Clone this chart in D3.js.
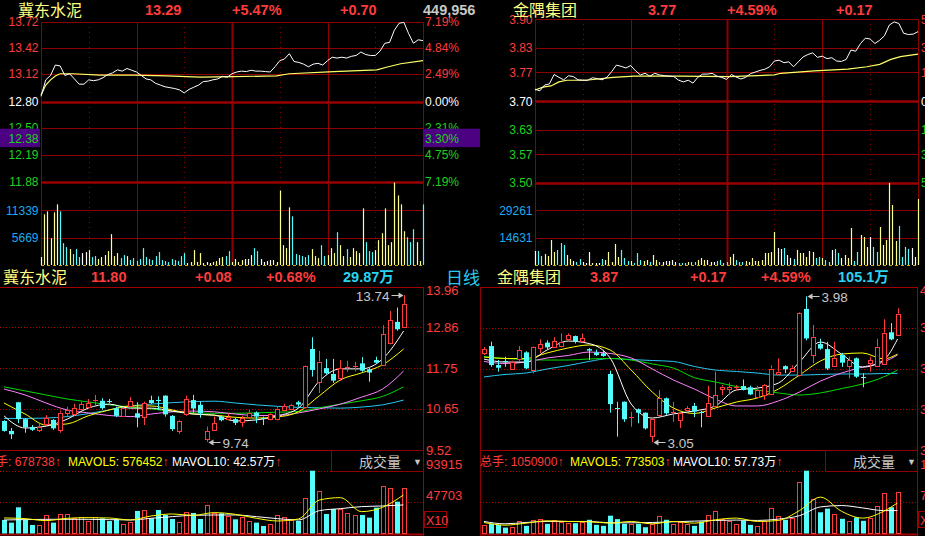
<!DOCTYPE html>
<html>
<head>
<meta charset="utf-8">
<script src="https://cdn.jsdelivr.net/npm/d3@7/dist/d3.min.js"></script>
<style>
html,body{margin:0;padding:0;background:#000;overflow:hidden;}
svg{display:block;}
</style>
</head>
<body>
<svg id="chart" width="925" height="536"></svg>
<script>
// ================= DATA =================
const jdName = "冀东水泥";
const jyName = "金隅集团";
const jdTopHeader = ["13.29", "+5.47%", "+0.70", "449,956"];
const jyTopHeader = ["3.77", "+4.59%", "+0.17"];
const jdDayHeader = ["11.80", "+0.08", "+0.68%", "29.87万"];
const jyDayHeader = ["3.87", "+0.17", "+4.59%", "105.1万"];
const periodLabel = "日线";
const jdVolHeader = ["678738", "576452", "42.57万"];
const jyVolHeader = ["1050900", "773503", "57.73万"];

// intraday axes
const jdPrevClose = 12.80;
const jyPrevClose = 3.70;
const jdPriceTicks = [13.72, 13.42, 13.12, 12.80, 12.50, 12.19, 11.88];
const jdPctTicks = ["7.19%", "4.84%", "2.49%", "0.00%", "2.31%", "4.75%", "7.19%"];
const jyPriceTicks = [3.90, 3.83, 3.77, 3.70, 3.63, 3.57, 3.50];
const jyPctTicks = ["5.41%", "3.51%", "1.89%", "0.00%", "1.89%", "3.51%", "5.41%"];
const jdIntraVolTicks = [11339, 5669];
const jyIntraVolTicks = [29261, 14631];
const jdCursorPrice = 12.38;
const jdCursorPct = "3.30%";

// intraday price, one sample every 3 minutes (0..240)
const jdIntraPrice = [12.86,13.05,13.10,13.22,13.21,13.10,13.12,13.06,13.00,13.00,
13.05,13.04,13.05,13.075,13.11,13.13,13.165,13.15,13.18,13.16,
13.14,13.10,13.06,13.05,13.01,12.99,12.97,12.96,12.95,12.935,
12.90,12.94,12.965,12.99,13.03,13.035,13.05,13.06,13.09,13.08,
13.12,13.14,13.15,13.145,13.16,13.15,13.15,13.145,13.14,13.20,
13.27,13.29,13.35,13.26,13.25,13.23,13.20,13.23,13.24,13.22,
13.27,13.31,13.30,13.31,13.30,13.32,13.33,13.37,13.34,13.33,
13.33,13.38,13.47,13.48,13.62,13.70,13.71,13.58,13.47,13.51,
13.50];
const jdAvgMinutes = [0,3,6,9,12,20,37,58,79,100,121,148,156,184,211,217,226,240];
const jdAvgPrice = [12.875,12.99,13.05,13.095,13.12,13.12,13.105,13.105,13.095,13.08,13.087,13.095,13.12,13.145,13.165,13.195,13.235,13.27];
// intraday volume, one sample every 2 minutes
const jdIntraVol = [1650,10510,11120,5560,10920,12570,11120,4530,3710,3300,
2270,3300,1650,2470,2680,3090,1650,1850,1240,1650,
2060,2880,6390,1850,2470,1440,2060,1850,1030,1440,
820,1240,3500,1650,1240,1030,1850,2680,1030,820,
620,1240,1030,820,1850,2470,410,620,3090,620,
2470,410,620,410,620,820,1440,1650,1850,2880,
620,1240,620,1030,1240,1240,2060,3500,2880,1240,
620,820,1030,1030,620,15450,4120,3500,11950,10090,
2270,2060,1850,1650,2060,3300,1850,1440,4120,1850,
2060,3500,2470,6800,4120,1850,3300,1650,3500,2880,
2470,11740,4740,2880,2680,3090,5150,6590,11740,4120,
4740,17100,14420,12570,7000,5770,4740,7420,4740,820,
12570];

const jyIntraPrice = [3.729,3.725,3.739,3.742,3.765,3.758,3.752,3.762,3.760,3.752,
3.751,3.751,3.757,3.755,3.752,3.758,3.772,3.788,3.785,3.781,
3.787,3.774,3.764,3.768,3.761,3.768,3.764,3.762,3.761,3.760,
3.751,3.747,3.751,3.744,3.758,3.766,3.766,3.768,3.761,3.758,
3.753,3.765,3.759,3.754,3.758,3.767,3.771,3.775,3.778,3.784,
3.798,3.800,3.794,3.796,3.784,3.796,3.808,3.814,3.818,3.807,
3.810,3.804,3.806,3.798,3.797,3.802,3.825,3.822,3.841,3.854,
3.852,3.841,3.849,3.860,3.886,3.894,3.890,3.866,3.863,3.864,
3.870];
const jyAvgMinutes = [0,5,10,15,20,32,49,62,91,122,150,154,175,196,208,216,223,229,240];
const jyAvgPrice = [3.727,3.734,3.737,3.747,3.751,3.751,3.758,3.761,3.761,3.760,3.764,3.768,3.774,3.778,3.784,3.790,3.802,3.809,3.815];
const jyIntraVol = [7490,7490,4815,5885,4815,13375,6955,8025,11770,10700,
5350,3210,2140,1605,3210,1605,1070,6955,1070,1070,
1070,3210,2675,6955,1605,11235,4280,8025,3745,2140,
2140,1070,6420,2675,2140,2675,1605,5350,2675,1605,
1605,2140,2140,2675,1605,1070,1070,1070,1605,1605,
1605,2675,3745,2675,2675,1605,1605,2140,2675,1070,
1605,4280,5885,2675,1605,1605,2140,1605,3745,2140,
2140,2675,6420,6420,6955,17655,9095,8560,9095,5350,
3745,3210,8025,6420,6420,4280,7490,6955,3745,4280,
3745,2675,1605,8025,8560,6420,3745,5350,3745,19795,
2140,6955,16050,14980,9630,14980,9630,6955,20330,10700,
13375,43870,32100,12840,20865,4280,9630,8560,9095,4280,
35310];

// daily candles: 冀东水泥
const jdOpen  = [10.31,10.04,10.82,10.36,10.14,10.06,10.23,10.34,10.08,10.53,10.52,10.63,10.67,10.85,10.86,10.86,10.65,10.45,10.73,10.52,10.40,10.88,10.87,11.00,10.45,10.04,10.50,10.88,10.75,9.82,10.05,10.43,10.38,10.36,10.26,10.43,10.54,10.40,10.36,10.38,10.61,10.63,10.82,10.68,12.27,11.38,11.75,11.59,11.47,11.76,11.78,11.88,11.72,11.97,11.84,12.43,13.01,12.88];
const jdHigh  = [10.33,10.12,10.83,10.38,10.20,10.23,10.47,10.36,10.59,10.70,10.78,10.84,10.91,11.02,10.93,10.91,10.70,10.69,10.96,10.82,10.84,11.00,10.98,11.01,10.47,10.34,11.00,11.02,10.84,10.16,10.43,10.47,10.52,10.40,10.45,10.61,10.57,10.43,10.52,10.70,10.78,10.78,10.86,11.82,12.59,12.22,12.00,12.00,11.97,11.95,11.92,12.05,11.76,12.06,12.92,13.31,13.40,13.74];
const jdLow   = [10.02,9.82,10.25,9.99,10.04,10.01,10.18,10.07,9.99,10.45,10.45,10.60,10.65,10.74,10.62,10.79,10.42,10.43,10.70,10.14,10.20,10.77,10.61,10.43,10.04,9.96,10.45,10.53,10.40,9.74,10.04,10.30,10.33,10.20,10.15,10.38,10.25,10.20,10.33,10.33,10.58,10.60,10.70,10.65,11.52,11.07,11.58,11.35,11.40,11.65,11.66,11.65,11.38,11.88,11.82,12.40,12.77,12.86];
const jdClose = [10.04,9.95,10.36,10.14,10.07,10.15,10.38,10.11,10.54,10.60,10.67,10.77,10.79,10.88,10.66,10.84,10.45,10.67,10.86,10.40,10.79,10.80,10.85,10.49,10.09,10.32,10.90,10.65,10.52,10.04,10.25,10.33,10.43,10.26,10.38,10.54,10.43,10.36,10.49,10.65,10.72,10.75,10.76,11.81,11.70,11.93,11.61,11.41,11.75,11.78,11.80,11.68,11.63,11.90,12.68,13.06,12.81,13.50];
const jdVolume = [20000,16000,39000,20000,12500,12500,27000,16000,28500,28500,23500,25000,19000,25000,22500,18500,21000,14000,17500,33500,34500,22500,35000,27500,21500,17000,32500,30500,21500,42000,31000,30000,25500,21000,25000,18500,16000,11000,14000,27000,24000,20000,18500,52500,93915,63500,29000,36500,36500,31000,27000,27500,23500,38500,71000,67500,47500,67874];
const jdMaIdx = [0,3,6,9,12,15,18,21,24,27,30,33,36,39,42,45,48,51,54,57];
const jdMa5  = [10.45,10.12,10.17,10.36,10.66,10.77,10.66,10.66,10.58,10.50,10.47,10.31,10.34,10.45,10.66,11.40,11.73,11.73,12.00,12.76];
const jdMa10 = [10.80,10.50,10.20,10.23,10.45,10.61,10.72,10.72,10.61,10.50,10.47,10.41,10.39,10.42,10.56,11.00,11.43,11.62,11.84,12.27];
const jdMa20 = [11.18,11.02,10.80,10.61,10.53,10.46,10.43,10.50,10.56,10.58,10.56,10.50,10.46,10.46,10.53,10.64,10.77,10.96,11.18,11.67];
const jdMa30 = [11.24,11.13,11.02,10.91,10.83,10.75,10.69,10.64,10.57,10.53,10.52,10.52,10.53,10.55,10.57,10.67,10.77,10.86,10.98,11.24];
const jdMa60 = [10.38,10.38,10.39,10.43,10.51,10.61,10.72,10.77,10.81,10.84,10.85,10.80,10.75,10.71,10.68,10.67,10.66,10.69,10.75,10.88];
const jdMavol5  = [23000,22000,19000,22500,23500,23000,20000,26000,29000,27000,31000,28500,22500,18500,21500,50000,53500,32500,39000,57645];
const jdMavol10 = [20000,20500,21000,21000,21000,20500,20000,22500,25000,27000,27500,27500,25000,22000,20000,34000,37000,40000,41000,42570];
const jdDayTicks = [13.96, 12.86, 11.75, 10.65, 9.52];
const jdVolTicks = [93915, 47703];

// daily candles: 金隅集团
const jyOpen  = [3.617,3.663,3.542,3.568,3.521,3.579,3.623,3.506,3.649,3.685,3.659,3.663,3.708,3.727,3.691,3.644,3.621,3.617,3.485,3.266,3.308,3.205,3.260,3.238,3.085,3.223,3.330,3.234,3.191,3.255,3.281,3.240,3.220,3.280,3.390,3.390,3.400,3.408,3.400,3.336,3.350,3.360,3.490,3.535,3.505,3.478,3.900,3.610,3.676,3.644,3.536,3.606,3.536,3.585,3.466,3.557,3.536,3.553,3.751,3.738];
const jyHigh  = [3.657,3.691,3.574,3.595,3.570,3.663,3.630,3.660,3.706,3.700,3.720,3.744,3.744,3.730,3.744,3.650,3.640,3.640,3.506,3.308,3.310,3.244,3.265,3.240,3.200,3.383,3.335,3.308,3.240,3.280,3.300,3.250,3.410,3.500,3.415,3.430,3.415,3.450,3.410,3.410,3.420,3.540,3.585,3.540,3.540,3.880,3.980,3.798,3.710,3.690,3.690,3.620,3.595,3.590,3.490,3.595,3.710,3.834,3.810,3.904];
const jyLow   = [3.606,3.531,3.500,3.531,3.515,3.564,3.515,3.489,3.617,3.640,3.655,3.655,3.700,3.680,3.685,3.574,3.600,3.595,3.238,3.085,3.180,3.148,3.170,3.130,3.050,3.210,3.225,3.180,3.140,3.240,3.210,3.145,3.210,3.270,3.350,3.350,3.380,3.380,3.350,3.330,3.320,3.355,3.485,3.490,3.500,3.470,3.700,3.553,3.640,3.510,3.530,3.530,3.457,3.460,3.400,3.500,3.530,3.545,3.700,3.730];
const jyClose = [3.642,3.542,3.525,3.560,3.564,3.638,3.521,3.655,3.676,3.655,3.695,3.691,3.734,3.691,3.713,3.634,3.606,3.600,3.293,3.260,3.196,3.210,3.238,3.138,3.196,3.330,3.234,3.240,3.234,3.266,3.245,3.236,3.300,3.350,3.405,3.400,3.405,3.383,3.355,3.383,3.415,3.520,3.500,3.515,3.525,3.876,3.712,3.723,3.647,3.520,3.589,3.557,3.574,3.468,3.462,3.574,3.659,3.749,3.706,3.870];
const jyVolume = [21500,24100,21500,14600,17200,31800,18900,34400,36100,24100,34400,28400,25800,25800,27500,34400,21500,18900,44800,36100,24100,24100,24100,15500,24100,44800,34400,24100,27500,24100,18900,30100,47300,57700,37000,31800,24100,32700,21500,18900,31800,64600,44800,34400,38700,131700,159200,87800,53400,62800,49100,37000,31800,40500,31800,38700,70600,103300,66300,105090];
const jyMaIdx = [0,3,6,9,12,15,18,21,24,27,30,33,36,39,42,45,48,51,54,57,59];
const jyMa5  = [3.580,3.561,3.561,3.638,3.695,3.679,3.587,3.293,3.204,3.230,3.249,3.281,3.383,3.395,3.427,3.561,3.689,3.612,3.529,3.574,3.708];
const jyMa10 = [3.593,3.584,3.584,3.619,3.651,3.670,3.638,3.510,3.370,3.268,3.233,3.268,3.306,3.332,3.389,3.478,3.568,3.612,3.619,3.581,3.612];
const jyMa20 = [3.565,3.552,3.561,3.587,3.603,3.625,3.616,3.587,3.517,3.447,3.389,3.325,3.281,3.281,3.313,3.370,3.440,3.491,3.529,3.561,3.606];
const jyMa30 = [3.596,3.584,3.577,3.574,3.574,3.581,3.584,3.574,3.549,3.523,3.462,3.434,3.405,3.383,3.364,3.351,3.364,3.392,3.421,3.466,3.510];
const jyMa60 = [3.466,3.482,3.491,3.517,3.539,3.565,3.584,3.577,3.571,3.565,3.533,3.510,3.501,3.491,3.478,3.478,3.482,3.485,3.485,3.488,3.489];
const jyMavol5  = [27500,20700,25800,31800,30100,29300,25800,30100,24100,30100,25800,34400,38700,30100,32700,57700,92000,56000,38700,55900,77350];
const jyMavol10 = [30100,24100,27500,30100,30100,30100,26700,26700,27500,29300,31000,32700,33600,32700,36100,44800,67100,70600,64600,57700,57730];
const jyDayTicks = [4.04, 3.78, 3.52, 3.26, 3.00];
const jyVolTicks = [159200, 79600];

// ================= STYLE =================
const C = {
  red: "#ff3c3c", green: "#1ed21e", white: "#ffffff", grid: "#8c0000", gridThick: "#9a0000",
  frame: "#a00000", cyan: "#54fcfc", lineCyan: "#28c8f0", yellow: "#ffff00", magenta: "#ff80ff",
  ma30: "#00dc00", title: "#ffff80", volLabel: "#1eaaf0", gray: "#c8c8c8", purple: "#4c0082",
  volUp: "#ffff90", avgLine: "#ffff66", dash: "#d2a000"
};
const NUM = "'Liberation Sans', Arial, 'Noto Sans CJK SC', sans-serif";
const CJK = "'Noto Sans CJK SC', 'Noto Sans CJK JP', sans-serif";
const VOL_BASE = 265, VOL_TICK_Y = 210.3;

const svg = d3.select("#chart");
svg.append("rect").attr("width", 925).attr("height", 536).attr("fill", "#000");

function label(g, x, y, s, color, size, anchor, family) {
  return g.append("text").attr("x", x).attr("y", y).attr("fill", color)
    .attr("font-size", size).attr("font-family", family || NUM)
    .attr("text-anchor", anchor || "start").text(s);
}
function hline(g, x1, x2, y, color, w, dash) {
  const l = g.append("line").attr("x1", x1).attr("x2", x2).attr("y1", y).attr("y2", y)
    .attr("stroke", color).attr("stroke-width", w || 1);
  if (dash) l.attr("stroke-dasharray", dash);
  return l;
}
function vline(g, x, y1, y2, color, w, dash) {
  const l = g.append("line").attr("x1", x).attr("x2", x).attr("y1", y1).attr("y2", y2)
    .attr("stroke", color).attr("stroke-width", w || 1);
  if (dash) l.attr("stroke-dasharray", dash);
  return l;
}

// ================= INTRADAY PANELS =================
function drawIntraday(o) {
  const g = svg.append("g");
  const x = d3.scaleLinear().domain([0, 240]).range([o.x0, o.x1]);
  const y = d3.scaleLinear().domain([o.ticks[o.ticks.length - 1], o.ticks[0]]).range([o.yBot, o.yTop]);
  const yv = d3.scaleLinear().domain([0, o.volTicks[0]]).range([VOL_BASE, VOL_TICK_Y]);

  d3.range(0, 9).forEach(k => {
    const xx = Math.round(x(k * 30)) + 0.5;
    vline(g, xx, Math.round(o.yTop), VOL_BASE, C.grid, k === 4 ? 2 : 1, k % 2 === 1 ? "1,4" : null);
  });
  o.ticks.forEach((t, i) => {
    const yy = Math.round(y(t)) + 0.5;
    const thick = Math.abs(t - o.prev) < 1e-9 || i === o.ticks.length - 1;
    hline(g, o.x0, o.x1, yy, thick ? C.gridThick : C.grid, thick ? 2.5 : 1);
  });
  o.volTicks.forEach(t => hline(g, o.x0, o.x1, Math.round(yv(t)) + 0.5, C.grid, 1));

  // volume bars, coloured by the direction of the price at that time
  const flat = o.prev * 0.0006;
  o.vol.forEach((v, j) => {
    const m = j * 2;
    const xx = Math.round(x(m)) + 0.5;
    const k = Math.min(o.price.length - 1, Math.round(m / 3));
    const d = k > 0 ? o.price[k] - o.price[k - 1] : 0;
    const col = d > flat ? C.volUp : (d < -flat ? C.cyan : C.white);
    vline(g, xx, VOL_BASE, yv(v), col, 1.2);
  });

  // average line
  g.append("path").datum(o.avgMin.map((m, i) => [m, o.avg[i]]))
    .attr("d", d3.line().x(d => x(d[0])).y(d => y(d[1])))
    .attr("fill", "none").attr("stroke", C.avgLine).attr("stroke-width", 1.2);
  // price line
  g.append("path").datum(o.price)
    .attr("d", d3.line().x((d, k) => x(k * 3)).y(d => y(d)))
    .attr("fill", "none").attr("stroke", C.white).attr("stroke-width", 1);

  // axis labels
  o.ticks.forEach((t, i) => {
    const yy = y(t);
    const col = t > o.prev + 1e-9 ? C.red : (t < o.prev - 1e-9 ? C.green : C.white);
    label(g, o.x0 - 2.5, yy + 4.5, t.toFixed(2), col, 12, "end");
    label(g, o.x1 + o.pctDx, yy + 4.5, o.pct[i], col, 12, "start");
  });
  o.volTicks.forEach(t => label(g, o.x0 - 2.5, yv(t) + 4.5, String(t), C.volLabel, 12, "end"));

  if (o.cursor != null) {
    const yc = y(o.cursor);
    g.append("rect").attr("x", 0).attr("y", yc - 9.5).attr("width", o.x0 - 1).attr("height", 18.5).attr("fill", C.purple);
    g.append("rect").attr("x", o.x1 + 1).attr("y", yc - 9.5).attr("width", 480 - o.x1 - 1).attr("height", 18.5).attr("fill", C.purple);
    label(g, o.x0 - 2.5, yc + 4.5, o.cursor.toFixed(2), C.green, 12, "end");
    label(g, o.x1 + o.pctDx, yc + 4.5, o.cursorPct, C.green, 12, "start");
  }

  // header
  label(g, o.titleX, 16, o.name, C.title, 16, "start", CJK);
  o.header.forEach((s, i) => label(g, o.headerX[i], 15, s, i === 3 ? C.gray : C.red, 14.5, "start")
    .attr("font-weight", "bold"));

  // dashed panel bottom
  hline(g, o.x0, o.x1, 265.5, C.dash, 1, "3,3");
}

drawIntraday({
  x0: 41, x1: 423, yTop: 21.5, yBot: 181.7, ticks: jdPriceTicks, pct: jdPctTicks, pctDx: 2,
  prev: jdPrevClose, price: jdIntraPrice, avgMin: jdAvgMinutes, avg: jdAvgPrice,
  vol: jdIntraVol, volTicks: jdIntraVolTicks, cursor: jdCursorPrice, cursorPct: jdCursorPct,
  name: jdName, titleX: 18, header: jdTopHeader, headerX: [145, 232, 340, 423]
});
drawIntraday({
  x0: 535, x1: 918, yTop: 19.4, yBot: 182.7, ticks: jyPriceTicks, pct: jyPctTicks, pctDx: 3,
  prev: jyPrevClose, price: jyIntraPrice, avgMin: jyAvgMinutes, avg: jyAvgPrice,
  vol: jyIntraVol, volTicks: jyIntraVolTicks, cursor: null,
  name: jyName, titleX: 513, header: jyTopHeader, headerX: [648, 727, 836]
});

// ================= DAILY PANELS =================
function drawDaily(o) {
  const g = svg.append("g");
  const n = o.open.length;
  const x = d3.scaleLinear().domain([0, n - 1]).range([o.xFirst, o.xFirst + (n - 1) * 7.01]);
  const y = d3.scaleLinear().domain([o.ticks[o.ticks.length - 1], o.ticks[0]]).range([450, 287]);
  const yv = d3.scaleLinear().domain([0, o.volTicks[0]]).range([533.3, 470.7]);

  // frame
  hline(g, o.frameL, o.frameR, 287.5, C.frame, 1);
  hline(g, o.frameL, o.frameR, 450.5, C.frame, 1);
  hline(g, o.frameL, o.frameR, 534.5, C.frame, 2);
  vline(g, o.frameR + 0.5, 287, 536, C.frame, 1);
  if (o.frameL > 0) vline(g, o.frameL + 0.5, 287, 536, C.grid, 1);
  o.ticks.slice(1, -1).forEach(t => hline(g, o.frameL, o.frameR, Math.round(y(t)) + 0.5, "#b40000", 1, "1,2"));
  o.volTicks.forEach(t => hline(g, o.frameL, o.frameR, Math.round(yv(t)) + 0.5, "#b40000", 1, "1,2"));

  // MA lines (behind candles)
  const maLine = d3.line().x(d => x(d[0])).y(d => y(d[1])).curve(d3.curveMonotoneX);
  [[o.ma60, C.lineCyan], [o.ma30, C.ma30], [o.ma20, C.magenta], [o.ma10, C.yellow], [o.ma5, C.white]].forEach(([arr, col]) => {
    g.append("path").datum(o.maIdx.map((i, k) => [i, arr[k]])).attr("d", maLine)
      .attr("fill", "none").attr("stroke", col).attr("stroke-width", 1);
  });

  // candles
  o.open.forEach((op, i) => {
    const cl = o.close[i];
    const cx = Math.round(x(i));
    const up = cl >= op;
    const yo = y(op), yc = y(cl), yh = y(o.high[i]), yl = y(o.low[i]);
    const top = Math.min(yo, yc), bot = Math.max(yo, yc);
    if (up) {
      vline(g, cx + 0.5, yh, top, C.red, 1);
      vline(g, cx + 0.5, bot, yl, C.red, 1);
      if (bot - top < 1.5) hline(g, cx - 2, cx + 3, Math.round(top) + 0.5, C.red, 1);
      else g.append("rect").attr("x", cx - 1.5).attr("y", Math.round(top) + 0.5).attr("width", 4)
        .attr("height", Math.max(1, Math.round(bot - top))).attr("fill", "#000").attr("stroke", C.red).attr("stroke-width", 1);
    } else {
      vline(g, cx + 0.5, yh, yl, C.cyan, 1);
      if (bot - top < 1.5) hline(g, cx - 2, cx + 3, Math.round(top) + 0.5, C.cyan, 1);
      else g.append("rect").attr("x", cx - 2).attr("y", top).attr("width", 5)
        .attr("height", bot - top).attr("fill", C.cyan);
    }
  });

  // high / low markers
  function marker(i, v) {
    const cx = Math.round(x(i)) + 0.5;
    const yy = Math.round(y(v)) + 0.5;
    const left = cx > o.frameR - 60;
    if (left) {
      hline(g, cx - 13, cx - 2, yy, C.gray, 1);
      g.append("path").attr("d", `M${cx - 1},${yy} l-5,-3 l0,6 z`).attr("fill", C.gray);
      label(g, cx - 15, yy + 5, v.toFixed(2), C.gray, 13.5, "end");
    } else {
      hline(g, cx + 2, cx + 13, yy, C.gray, 1);
      g.append("path").attr("d", `M${cx + 1},${yy} l5,-3 l0,6 z`).attr("fill", C.gray);
      label(g, cx + 15, yy + 5, v.toFixed(2), C.gray, 13.5, "start");
    }
  }
  const hi = d3.maxIndex(o.high), lo = d3.minIndex(o.low);
  marker(hi, o.high[hi]);
  marker(lo, o.low[lo]);

  // volume bars
  o.vol.forEach((v, i) => {
    const cx = Math.round(x(i));
    const up = o.close[i] >= o.open[i];
    const yt = yv(v);
    if (up) g.append("rect").attr("x", cx - 1.5).attr("y", Math.round(yt) + 0.5).attr("width", 4)
      .attr("height", Math.max(1, 533 - Math.round(yt))).attr("fill", "#000").attr("stroke", C.red).attr("stroke-width", 1);
    else g.append("rect").attr("x", cx - 2).attr("y", yt).attr("width", 5).attr("height", 533.5 - yt).attr("fill", C.cyan);
  });
  const vLine = d3.line().x(d => x(d[0])).y(d => yv(d[1])).curve(d3.curveMonotoneX);
  [[o.mavol10, C.white], [o.mavol5, C.yellow]].forEach(([arr, col]) => {
    g.append("path").datum(o.maIdx.map((i, k) => [i, arr[k]])).attr("d", vLine)
      .attr("fill", "none").attr("stroke", col).attr("stroke-width", 1);
  });

  // price labels
  o.ticks.forEach(t => {
    const yy = Math.min(Math.max(y(t), 290), 452);
    label(g, o.frameR + 3, yy + 4.5, t.toFixed(2), C.red, 13, "start");
  });
  o.volTicks.forEach(t => label(g, o.frameR + 3, yv(t) - 2, String(t), C.red, 13, "start"));
  g.append("rect").attr("x", o.frameR + 1.5).attr("y", 511.5).attr("width", 22).attr("height", 16)
    .attr("fill", "none").attr("stroke", C.frame);
  label(g, o.frameR + 3, 524.5, "X10", C.red, 12.5, "start");

  // header row
  label(g, o.titleX, 283, o.name, C.title, 16, "start", CJK);
  o.header.forEach((s, i) => label(g, o.headerX[i], 282, s, i === 3 ? "#2ad4f0" : C.red, 14.5, "start")
    .attr("font-weight", "bold"));

  // volume header
  const t = g.append("text").attr("y", 466).attr("font-size", 12).attr("font-family", NUM);
  t.append("tspan").attr("x", o.volHeaderX[0]).attr("fill", C.red).text("总手: " + o.volHeader[0]);
  t.append("tspan").attr("fill", C.red).text("↑");
  t.append("tspan").attr("x", o.volHeaderX[1]).attr("fill", C.yellow).text("MAVOL5: " + o.volHeader[1]);
  t.append("tspan").attr("fill", C.red).text("↑");
  t.append("tspan").attr("x", o.volHeaderX[2]).attr("fill", C.white).text("MAVOL10: " + o.volHeader[2]);
  t.append("tspan").attr("fill", C.red).text("↑");

  // 成交量 selector box
  g.append("rect").attr("x", o.frameR - 91.5).attr("y", 450.5).attr("width", 92).attr("height", 21)
    .attr("fill", "#000").attr("stroke", C.grid);
  label(g, o.frameR - 64, 467, "成交量", C.gray, 14, "start", CJK);
  label(g, o.frameR - 10, 465, "▼", C.gray, 9, "start", NUM);
}

drawDaily({
  open: jdOpen, high: jdHigh, low: jdLow, close: jdClose, vol: jdVolume,
  maIdx: jdMaIdx, ma5: jdMa5, ma10: jdMa10, ma20: jdMa20, ma30: jdMa30, ma60: jdMa60,
  mavol5: jdMavol5, mavol10: jdMavol10, ticks: jdDayTicks, volTicks: jdVolTicks,
  xFirst: 4, frameL: 0, frameR: 423, name: jdName, titleX: 3, header: jdDayHeader,
  headerX: [91, 195, 266, 343], volHeader: jdVolHeader, volHeaderX: [-16, 68, 172]
});
drawDaily({
  open: jyOpen, high: jyHigh, low: jyLow, close: jyClose, vol: jyVolume,
  maIdx: jyMaIdx, ma5: jyMa5, ma10: jyMa10, ma20: jyMa20, ma30: jyMa30, ma60: jyMa60,
  mavol5: jyMavol5, mavol10: jyMavol10, ticks: jyDayTicks, volTicks: jyVolTicks,
  xFirst: 484, frameL: 480, frameR: 917, name: jyName, titleX: 497, header: jyDayHeader,
  headerX: [590, 690, 761, 838], volHeader: jyVolHeader, volHeaderX: [480, 570, 673]
});
label(svg, 446, 284, periodLabel, "#28c8f0", 17, "start", CJK);
</script>
</body>
</html>
